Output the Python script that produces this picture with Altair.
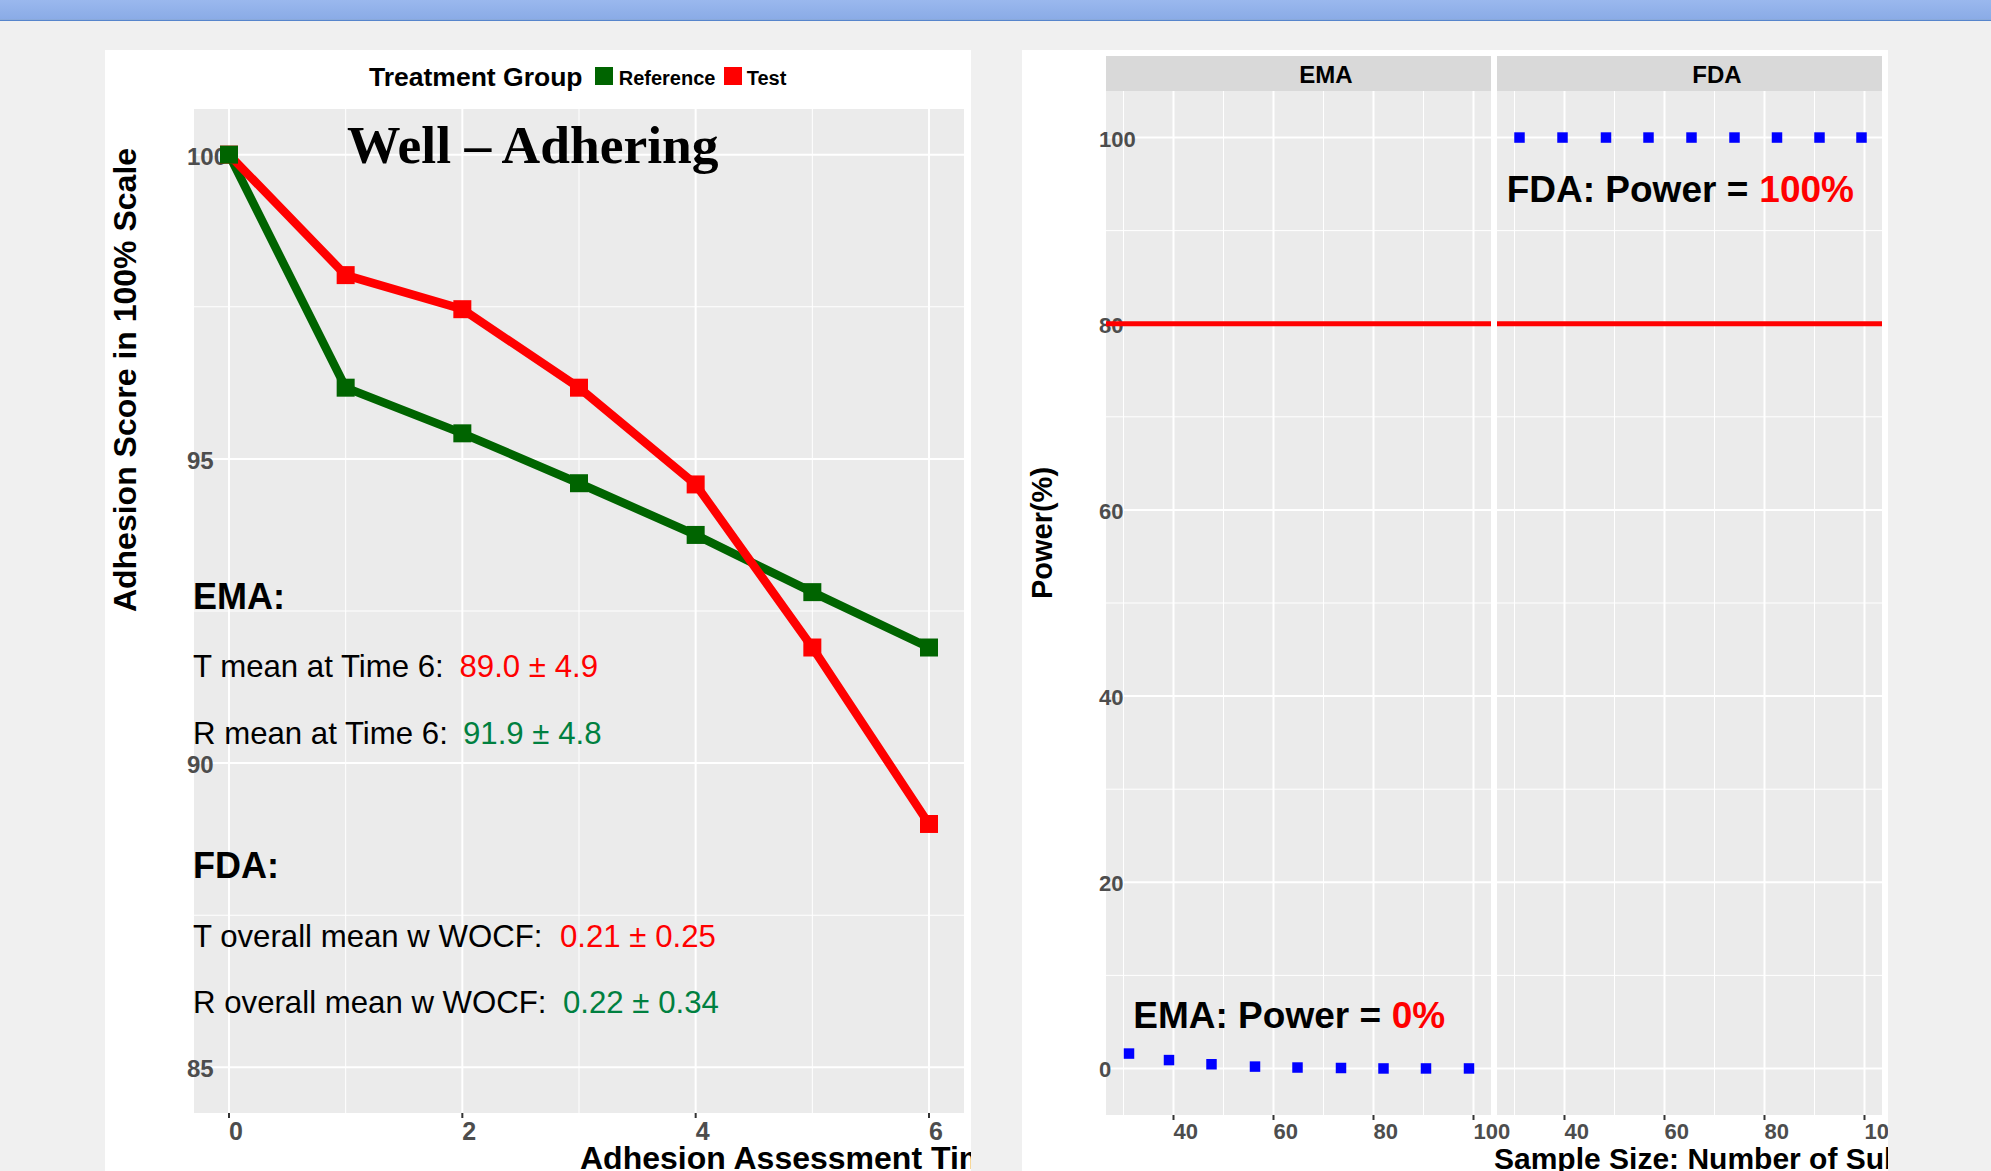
import altair as alt
import pandas as pd

# ---------------- data ----------------
times = [0, 1, 2, 3, 4, 5, 6]
reference_scores = [100.0, 96.17, 95.42, 94.6, 93.75, 92.81, 91.9]
test_scores = [100.0, 98.02, 97.46, 96.17, 94.58, 91.9, 89.0]
groups = ["Reference", "Test"]
group_colors = ["#006400", "#FF0000"]
legend_title = "Treatment Group"

left_x_major = [0, 2, 4, 6]
left_x_minor = [1, 3, 5]
left_y_major = [85, 90, 95, 100]
left_y_minor = [87.5, 92.5, 97.5]

ema_sizes = [31.1, 39.1, 47.6, 56.3, 64.8, 73.5, 82.0, 90.5, 99.1]
ema_power = [1.6, 0.9, 0.45, 0.2, 0.1, 0.05, 0.0, 0.0, 0.0]
fda_sizes = [31.0, 39.6, 48.3, 56.8, 65.4, 74.0, 82.5, 91.0, 99.4]
fda_power = [100, 100, 100, 100, 100, 100, 100, 100, 100]
target_power = [80]
right_x_major = [40, 60, 80, 100]
right_x_minor = [30, 50, 70, 90]
right_y_major = [0, 20, 40, 60, 80, 100]
right_y_minor = [10, 30, 50, 70, 90]
panel_names = ["EMA", "FDA"]

ema_rows = ["T mean at Time 6:", "R mean at Time 6:"]
ema_values = ["89.0 \u00b1 4.9", "91.9 \u00b1 4.8"]
fda_rows = ["T overall mean w WOCF:", "R overall mean w WOCF:"]
fda_values = ["0.21 \u00b1 0.25", "0.22 \u00b1 0.34"]

# ---------------- layout / style ----------------
W, H = 1991, 1171
BG = "#F0F0F0"
PANEL_BG = "#EBEBEB"
STRIP_BG = "#D9D9D9"
TICK_GREY = "#4D4D4D"
RED = "#FF0000"
GREEN_TXT = "#008040"
SANS = "Liberation Sans"
SERIF = "Liberation Serif"

LX0, LX1, LY0, LY1 = 194, 964, 109, 1113
EX0, EX1 = 1106, 1491
FX0, FX1 = 1497, 1882
RY0, RY1 = 91, 1115

left_x = alt.Scale(domain=[-0.3, 6.3], range=[LX0, LX1], nice=False, zero=False)
left_y = alt.Scale(domain=[84.25, 100.75], range=[LY1, LY0], nice=False, zero=False)
ema_x = alt.Scale(domain=[26.5, 103.5], range=[EX0, EX1], nice=False, zero=False)
fda_x = alt.Scale(domain=[26.5, 103.5], range=[FX0, FX1], nice=False, zero=False)
right_y = alt.Scale(domain=[-5, 105], range=[RY1, RY0], nice=False, zero=False)

one = pd.DataFrame({"k": [0]})


def rect(x0, x1, y0, y1, color):
    return alt.Chart(one).mark_rect(color=color).encode(
        x=alt.value(x0), x2=alt.value(x1), y=alt.value(y0), y2=alt.value(y1))


def label(text, x, y, size, color="black", weight="bold", font=SANS,
          align="left", baseline="alphabetic", angle=0):
    return alt.Chart(one).mark_text(
        text=text, fontSize=size, color=color, fontWeight=weight, font=font,
        align=align, baseline=baseline, angle=angle,
    ).encode(x=alt.value(x), y=alt.value(y))


def vgrid(vals, scale, y0, y1, width, color="white"):
    return alt.Chart(pd.DataFrame({"v": vals})).mark_rule(
        color=color, strokeWidth=width).encode(
        x=alt.X("v:Q", scale=scale, axis=None), y=alt.value(y0), y2=alt.value(y1))


def hgrid(vals, scale, x0, x1, width, color="white"):
    return alt.Chart(pd.DataFrame({"v": vals})).mark_rule(
        color=color, strokeWidth=width).encode(
        y=alt.Y("v:Q", scale=scale, axis=None), x=alt.value(x0), x2=alt.value(x1))


def xlabels(vals, scale, y, size):
    return alt.Chart(pd.DataFrame({"v": vals})).mark_text(
        align="left", baseline="middle", fontSize=size, fontWeight="bold",
        color=TICK_GREY, font=SANS).encode(
        x=alt.X("v:Q", scale=scale, axis=None), y=alt.value(y),
        text=alt.Text("v:Q", format="d"))


def ylabels(vals, scale, x, size, dy):
    return alt.Chart(pd.DataFrame({"v": vals})).mark_text(
        align="left", baseline="middle", fontSize=size, fontWeight="bold",
        color=TICK_GREY, font=SANS, dy=dy).encode(
        y=alt.Y("v:Q", scale=scale, axis=None), x=alt.value(x),
        text=alt.Text("v:Q", format="d"))


layers = []

# banner and panels
banner = alt.Gradient(
    gradient="linear",
    stops=[alt.GradientStop(color="#9AB8EE", offset=0),
           alt.GradientStop(color="#8AABE6", offset=1)],
    x1=0, x2=0, y1=0, y2=1)
layers.append(alt.Chart(one).mark_rect(color=banner).encode(
    x=alt.value(0), x2=alt.value(W), y=alt.value(0), y2=alt.value(19.5)))
layers.append(rect(0, W, 19.5, 21, "#5685CC"))
layers.append(rect(105, 971, 50, H, "white"))
layers.append(rect(1022, 1888, 50, H, "white"))

# plot backgrounds and strips
layers.append(rect(LX0, LX1, LY0, LY1, PANEL_BG))
layers.append(rect(EX0, EX1, RY0, RY1, PANEL_BG))
layers.append(rect(FX0, FX1, RY0, RY1, PANEL_BG))
layers.append(rect(EX0, EX1, 56, RY0, STRIP_BG))
layers.append(rect(FX0, FX1, 56, RY0, STRIP_BG))

# left grid
layers.append(vgrid(left_x_minor, left_x, LY0, LY1, 1))
layers.append(hgrid(left_y_minor, left_y, LX0, LX1, 1))
layers.append(vgrid(left_x_major, left_x, LY0, LY1, 2))
layers.append(hgrid(left_y_major, left_y, LX0, LX1, 2))
# right grids
for sx, x0, x1 in [(ema_x, EX0, EX1), (fda_x, FX0, FX1)]:
    layers.append(vgrid(right_x_minor, sx, RY0, RY1, 1))
    layers.append(hgrid(right_y_minor, right_y, x0, x1, 1))
    layers.append(vgrid(right_x_major, sx, RY0, RY1, 2))
    layers.append(hgrid(right_y_major, right_y, x0, x1, 2))

# axis ticks and tick labels
layers.append(vgrid(left_x_major, left_x, LY1, LY1 + 5, 2, "#333333"))
layers.append(vgrid(right_x_major, ema_x, RY1, RY1 + 5, 2, "#333333"))
layers.append(vgrid(right_x_major, fda_x, RY1, RY1 + 5, 2, "#333333"))
layers.append(xlabels(left_x_major, left_x, 1132, 25))
layers.append(ylabels(left_y_major, left_y, 187, 24, 3))
layers.append(xlabels(right_x_major, ema_x, 1132, 22))
layers.append(xlabels(right_x_major, fda_x, 1132, 22))
layers.append(ylabels(right_y_major, right_y, 1099, 22, 2))

# ---------------- left: adhesion lines ----------------
line_df = pd.DataFrame({
    "time": times + times,
    "score": reference_scores + test_scores,
    "group": [groups[0]] * len(times) + [groups[1]] * len(times),
})
point_df = pd.DataFrame({
    "time": times + times,
    "score": test_scores + reference_scores,
    "group": [groups[1]] * len(times) + [groups[0]] * len(times),
})
color_scale = alt.Scale(domain=groups, range=group_colors)
layers.append(alt.Chart(line_df).mark_line(strokeWidth=8.5).encode(
    x=alt.X("time:Q", scale=left_x, axis=None),
    y=alt.Y("score:Q", scale=left_y, axis=None),
    color=alt.Color("group:N", scale=color_scale, legend=None),
))
layers.append(alt.Chart(point_df).mark_point(
    shape="square", filled=True, size=324, opacity=1).encode(
    x=alt.X("time:Q", scale=left_x, axis=None),
    y=alt.Y("score:Q", scale=left_y, axis=None),
    color=alt.Color("group:N", scale=color_scale, legend=None),
))

# legend (drawn as a key row above the plot)
layers.append(label(legend_title, 369, 85.7, 26.5))
layers.append(rect(595, 613, 67, 85, group_colors[0]))
layers.append(label(groups[0], 618.7, 85, 20))
layers.append(rect(724, 742, 67, 85, group_colors[1]))
layers.append(label(groups[1], 746.7, 85, 20))

# ---------------- right: power ----------------
layers.append(hgrid(target_power, right_y, EX0, EX1, 5, RED))
layers.append(hgrid(target_power, right_y, FX0, FX1, 5, RED))
layers.append(alt.Chart(pd.DataFrame({"n": ema_sizes, "p": ema_power})).mark_square(
    size=110, color="#0000FF", opacity=1).encode(
    x=alt.X("n:Q", scale=ema_x, axis=None), y=alt.Y("p:Q", scale=right_y, axis=None)))
layers.append(alt.Chart(pd.DataFrame({"n": fda_sizes, "p": fda_power})).mark_square(
    size=110, color="#0000FF", opacity=1).encode(
    x=alt.X("n:Q", scale=fda_x, axis=None), y=alt.Y("p:Q", scale=right_y, axis=None)))

# strip labels
layers.append(label(panel_names[0], 1326, 76, 24, align="center", baseline="middle"))
layers.append(label(panel_names[1], 1717, 76, 24, align="center", baseline="middle"))

# ---------------- annotations ----------------
NS = 31.2  # size of the narrow annotation lines
layers.append(label("Well \u2013 Adhering", 347, 163, 53.5, font=SERIF))
layers.append(label("EMA:", 193, 609, 36))
layers.append(label(ema_rows[0], 193, 677, NS, weight="normal"))
layers.append(label(ema_values[0], 459.5, 677, NS, color=RED, weight="normal"))
layers.append(label(ema_rows[1], 193, 744, NS, weight="normal"))
layers.append(label(ema_values[1], 463, 744, NS, color=GREEN_TXT, weight="normal"))
layers.append(label("FDA:", 193, 877.5, 36))
layers.append(label(fda_rows[0], 193, 946.5, NS, weight="normal"))
layers.append(label(fda_values[0], 560, 946.5, NS, color=RED, weight="normal"))
layers.append(label(fda_rows[1], 193, 1013, NS, weight="normal"))
layers.append(label(fda_values[1], 563, 1013, NS, color=GREEN_TXT, weight="normal"))

layers.append(label("FDA: Power =", 1506.7, 201.7, 37))
layers.append(label("100%", 1759.3, 201.7, 37, color=RED))
layers.append(label("EMA: Power =", 1133.3, 1028.3, 37))
layers.append(label("0%", 1391.7, 1028.3, 37, color=RED))

# axis titles
layers.append(label("Adhesion Score in 100% Scale", 126, 380, 32, align="center",
                    baseline="middle", angle=270))
layers.append(label("Power(%)", 1042.5, 533, 29, align="center", baseline="middle", angle=270))
layers.append(label("Adhesion Assessment Time", 580, 1169, 32))
layers.append(label("Sample Size: Number of Subjects", 1494, 1169, 30))

# crop edges (the source picture is cut off at the panel edges)
layers.append(rect(971, 1022, 1100, H, BG))
layers.append(rect(1888, W, 30, H, BG))

chart = alt.layer(*layers).resolve_scale(
    x="independent", y="independent"
).properties(
    width=W, height=H, padding=0,
    autosize=alt.AutoSizeParams(type="none"),
    background=BG,
).configure_view(strokeWidth=0)

chart.save("out.html", embed_options={"renderer": "svg", "actions": False})
